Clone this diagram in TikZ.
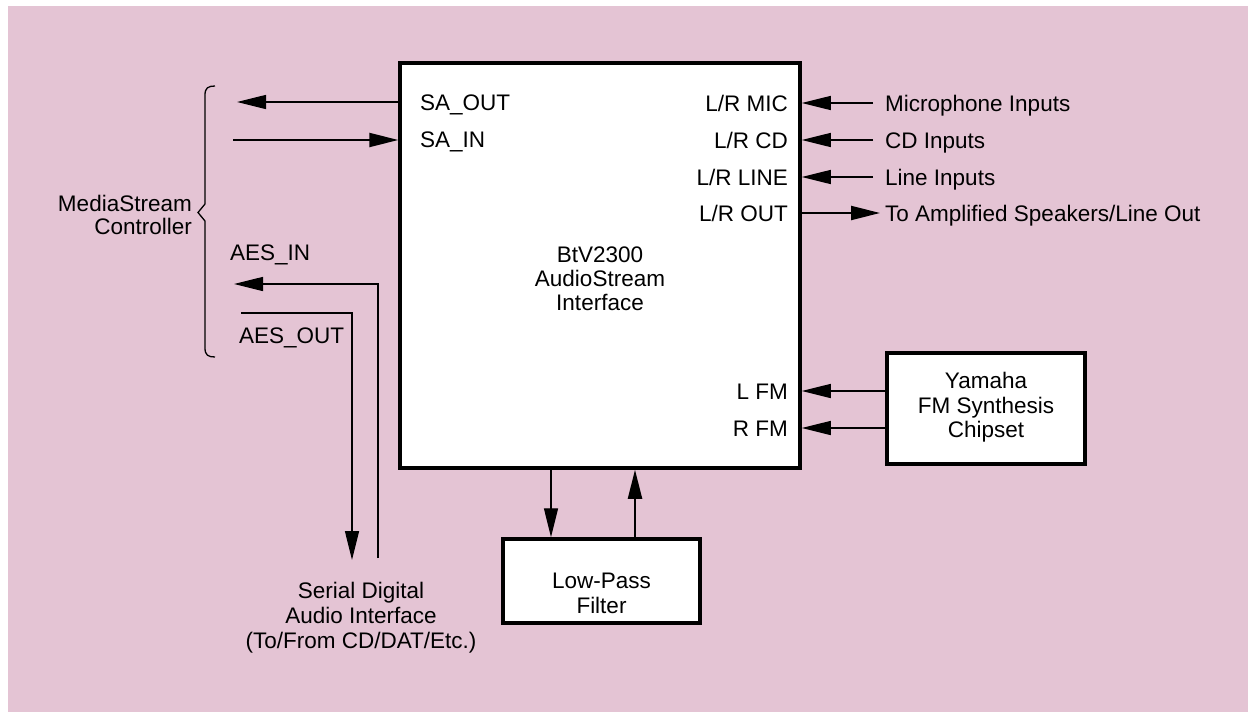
\documentclass[tikz,border=0pt]{standalone}
\usepackage{fontspec}
\setmainfont{Liberation Sans}
\usetikzlibrary{arrows.meta}
\definecolor{bgpink}{RGB}{228,196,212}
\tikzset{
  blockbox/.style={draw=black, line width=3.5pt, fill=white, inner sep=0pt},
  lbl/.style={inner sep=0pt, font=\fontsize{22.5}{25}\selectfont},
  thinarrow/.style={line width=1.3pt, -{Triangle[length=29pt,width=14pt]}},
  thickarrow/.style={line width=2.2pt, -{Triangle[length=29pt,width=14pt]}},
  thinline/.style={line width=1.3pt},
}
\begin{document}
\begin{tikzpicture}[x=1pt,y=-1pt]
\useasboundingbox (0,0) rectangle (1248,712);
\fill[bgpink] (8,6) rectangle (1248,712);

% blocks
\node[blockbox, minimum width=400pt, minimum height=405pt] (main) at (600,265.5) {};
\node[blockbox, minimum width=197pt, minimum height=84pt] (lpf) at (601.5,581) {};
\node[blockbox, minimum width=198pt, minimum height=111pt] (yam) at (986,408.5) {};

% main text
\node[lbl, anchor=base] (m1) at (600,262) {BtV2300};
\node[lbl, anchor=base] (m2) at (600,286) {AudioStream};
\node[lbl, anchor=base] (m3) at (600,310) {Interface};

\node[lbl, anchor=base] (l1) at (601.5,588) {Low-Pass};
\node[lbl, anchor=base] (l2) at (601.5,613) {Filter};

\node[lbl, anchor=base] (y1) at (986,388) {Yamaha};
\node[lbl, anchor=base] (y2) at (986,413) {FM Synthesis};
\node[lbl, anchor=base] (y3) at (986,437) {Chipset};

% port labels inside main
\node[lbl, anchor=base west] (saout) at (420,110) {SA\_OUT};
\node[lbl, anchor=base west] (sain) at (420,147) {SA\_IN};
\node[lbl, anchor=base east] (pmic) at (788,111) {L/R MIC};
\node[lbl, anchor=base east] (pcd) at (788,148) {L/R CD};
\node[lbl, anchor=base east] (pline) at (788,185) {L/R LINE};
\node[lbl, anchor=base east] (pout) at (788,221) {L/R OUT};
\node[lbl, anchor=base east] (plfm) at (788,399) {L FM};
\node[lbl, anchor=base east] (prfm) at (788,436) {R FM};

% right labels
\node[lbl, anchor=base west] (tmic) at (885,111) {Microphone Inputs};
\node[lbl, anchor=base west] (tcd) at (885,148) {CD Inputs};
\node[lbl, anchor=base west] (tline) at (885,185) {Line Inputs};
\node[lbl, anchor=base west] (tout) at (885,221) {To Amplified Speakers/Line Out};

% left labels
\node[lbl, anchor=base east] (ms1) at (192,211) {MediaStream};
\node[lbl, anchor=base east] (ms2) at (192,234) {Controller};
\node[lbl, anchor=base west] (aesin) at (230,260) {AES\_IN};
\node[lbl, anchor=base west] (aesout) at (239,343) {AES\_OUT};

\node[lbl, anchor=base] (s1) at (361,598) {Serial Digital};
\node[lbl, anchor=base] (s2) at (361,623) {Audio Interface};
\node[lbl, anchor=base] (s3) at (361,648) {(To/From CD/DAT/Etc.)};

% coordinates
\coordinate (saoutL) at (237,102);
\coordinate (sainL) at (233,140);
\coordinate (micR) at (873,103);
\coordinate (cdR) at (873,140);
\coordinate (lineR) at (873,177);
\coordinate (outR) at (880,213);
\coordinate (lfmY) at (887,391);
\coordinate (rfmY) at (887,428);
\coordinate (downX) at (551,500);
\coordinate (upX) at (635,500);
\coordinate (aesinL) at (234,284);
\coordinate (aesinB) at (378,558);
\coordinate (aesoutL) at (241,313);
\coordinate (aesoutB) at (352,560);

% connectors
\draw[thinarrow] (saoutL -| main.west) -- (saoutL);
\draw[thickarrow] (sainL) -- (sainL -| main.west);
\draw[thinarrow] (micR) -- (micR -| main.east);
\draw[thinarrow] (cdR) -- (cdR -| main.east);
\draw[thinarrow] (lineR) -- (lineR -| main.east);
\draw[thickarrow] (outR -| main.east) -- (outR);
\draw[thinarrow] (yam.west |- lfmY) -- (lfmY -| main.east);
\draw[thinarrow] (yam.west |- rfmY) -- (rfmY -| main.east);
\draw[thinarrow] (main.south -| downX) -- (lpf.north -| downX);
\draw[thickarrow] (lpf.north -| upX) -- (main.south -| upX);
\draw[thinarrow] (aesinB) |- (aesinL);
\draw[thinarrow] (aesoutL) -| (aesoutB);

% brace
\draw[thinline] (215,86) .. controls (208,86) and (205,88) .. (205,95) -- (205,204) -- (198,212.5) -- (205,221) -- (205,348) .. controls (205,355) and (208,357) .. (215,357);
\end{tikzpicture}
\end{document}
